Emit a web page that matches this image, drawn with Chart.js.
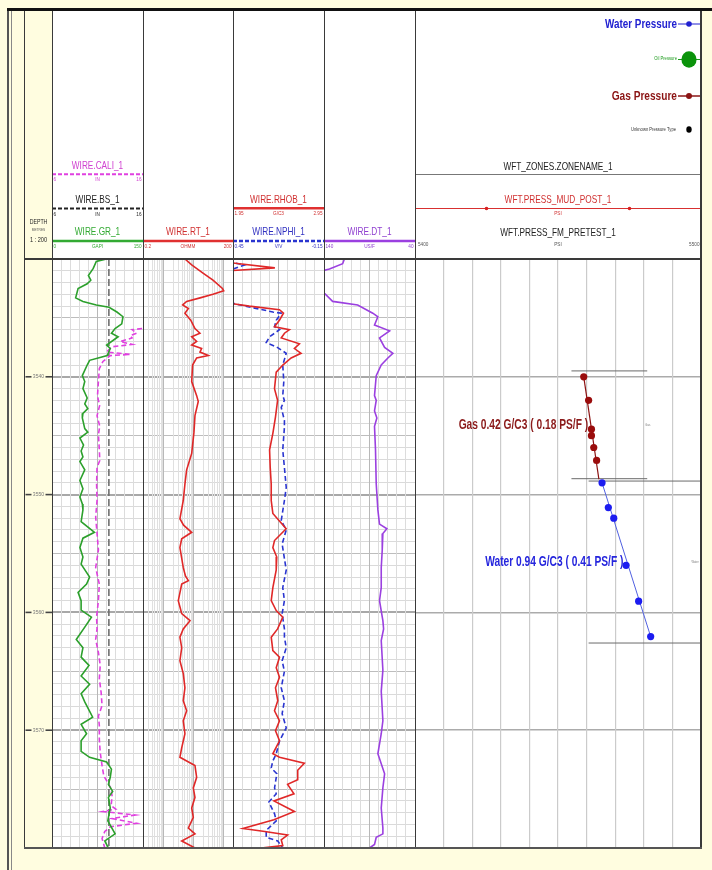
<!DOCTYPE html>
<html><head><meta charset="utf-8">
<script src="https://cdn.jsdelivr.net/npm/chart.js@4.4.1/dist/chart.umd.min.js"></script>
<style>
html,body{margin:0;padding:0;}
body{width:712px;height:870px;background:#FFFDE0;position:relative;overflow:hidden;font-family:"Liberation Sans",Arial,sans-serif;}
canvas{position:absolute;top:11px;}
canvas.trk{background:#ffffff;}
.ln{position:absolute;background:#3a3a3a;}
</style></head><body>
<canvas id="cDepth" class="dep" width="27" height="837" style="left:25px"></canvas>
<canvas id="c1" class="trk" width="91" height="837" style="left:52px"></canvas>
<canvas id="c2" class="trk" width="90" height="837" style="left:143px"></canvas>
<canvas id="c3" class="trk" width="91" height="837" style="left:233px"></canvas>
<canvas id="c4" class="trk" width="91" height="837" style="left:324px"></canvas>
<canvas id="c5" class="trk" width="286" height="837" style="left:415px"></canvas>

<div class="ln" style="left:7px;top:8px;width:2px;height:862px;background:#555"></div>
<div class="ln" style="left:11px;top:8px;width:1px;height:862px;background:#888"></div>
<div class="ln" style="left:7px;top:8px;width:705px;height:3px;background:#111"></div>
<div class="ln" style="left:24px;top:11px;width:1px;height:837px"></div>
<div class="ln" style="left:52px;top:11px;width:1px;height:837px"></div>
<div class="ln" style="left:143px;top:11px;width:1px;height:837px"></div>
<div class="ln" style="left:233px;top:11px;width:1px;height:837px"></div>
<div class="ln" style="left:324px;top:11px;width:1px;height:837px"></div>
<div class="ln" style="left:415px;top:11px;width:1px;height:837px"></div>
<div class="ln" style="left:700px;top:11px;width:2px;height:837px"></div>
<div class="ln" style="left:24px;top:258px;width:678px;height:2px"></div>
<div class="ln" style="left:24px;top:847px;width:678px;height:2px;background:#555"></div>

<script>
// ---------------- DATA ----------------
const DEPTH_MIN = 3530, DEPTH_MAX = 3580;
const DEPTH_LABELS = [3540, 3550, 3560, 3570];

// [depth (m), value]
const GR = [[3530.0,90],[3530.2,73],[3530.8,68],[3531.4,60],[3531.8,64],[3532.1,58],[3532.5,43],[3533.3,39],[3533.6,51],[3533.9,73],[3534.1,94],[3534.5,107],[3534.9,117],[3535.5,115],[3535.9,104],[3536.3,98],[3536.6,109],[3537.3,90],[3537.6,96],[3538.2,91],[3538.6,62],[3539.0,58],[3539.9,50],[3540.4,54],[3541.0,51],[3541.8,58],[3542.3,54],[3542.7,59],[3543.1,51],[3543.5,50],[3544.4,54],[3544.7,59],[3545.2,46],[3545.8,52],[3546.3,48],[3546.8,51],[3547.2,46],[3547.9,54],[3548.8,46],[3549.5,51],[3550.2,46],[3550.8,50],[3551.3,51],[3552.3,48],[3553.2,70],[3553.7,51],[3554.5,46],[3555.3,51],[3555.9,48],[3557.0,62],[3557.6,57],[3558.3,43],[3559.0,48],[3559.8,48],[3560.4,65],[3561.1,56],[3562.3,40],[3563.0,51],[3563.8,48],[3564.5,61],[3565.4,48],[3566.1,62],[3566.9,48],[3567.6,54],[3568.9,67],[3569.5,48],[3570.3,57],[3570.9,48],[3571.8,48],[3572.3,62],[3572.7,90],[3573.3,98],[3574.0,96],[3574.6,93],[3575.2,100],[3575.7,93],[3576.6,96],[3577.7,92],[3578.8,104],[3579.4,87],[3580.0,93]];

const CALI = [[3535.9,15.9],[3536.0,14.8],[3536.3,15.3],[3536.5,14.6],[3536.7,14.8],[3537.0,13.5],[3537.25,14.8],[3537.45,12.6],[3537.9,12.0],[3538.1,14.6],[3538.2,12.4],[3538.7,11.6],[3539.3,11.2],[3540.4,11.1],[3541.6,11.0],[3542.0,11.1],[3542.4,11.25],[3543.3,10.95],[3544.2,11.25],[3544.9,11.1],[3546.2,11.2],[3547.1,11.25],[3547.7,10.95],[3549.1,10.9],[3550.5,10.95],[3551.9,10.8],[3553.3,10.95],[3554.7,11.1],[3556.2,10.8],[3557.6,11.2],[3559.0,11.1],[3560.4,10.9],[3561.4,10.95],[3562.3,10.8],[3563.4,11.1],[3564.5,11.3],[3565.6,11.2],[3566.8,11.4],[3567.9,11.5],[3568.8,11.1],[3569.6,11.2],[3570.8,11.2],[3571.9,11.3],[3573.0,11.5],[3573.9,11.7],[3574.4,12.1],[3575.0,12.5],[3575.6,12.6],[3576.4,12.5],[3576.7,13.0],[3576.9,11.6],[3577.2,15.1],[3577.5,12.6],[3577.9,15.3],[3578.2,12.4],[3578.6,11.8],[3579.2,11.5],[3580.0,11.8]];

const BS = [[3530.0,12.25],[3580.0,12.25]];

const RT = [[3530.0,5.0],[3530.5,8.4],[3531.2,20],[3531.8,43],[3532.5,89],[3532.7,98],[3533.0,43],[3533.3,16],[3533.6,5.7],[3533.9,4.2],[3534.2,6.5],[3534.6,5.0],[3535.2,7.8],[3535.9,10.8],[3536.3,15.8],[3536.6,8.4],[3537.0,12.3],[3537.3,8.4],[3537.6,18],[3537.9,15.8],[3538.2,30],[3538.4,12.3],[3539.0,9.0],[3540.4,8.4],[3541.6,12.3],[3542.1,13.9],[3543.3,10.8],[3544.7,10.0],[3546.5,8.4],[3547.9,5.7],[3549.1,5.0],[3550.5,4.4],[3552.05,3.4],[3552.6,4.5],[3553.2,8.4],[3553.75,3.9],[3554.5,3.4],[3556.2,4.4],[3556.9,5.2],[3557.3,6.5],[3557.6,3.9],[3559.0,3.0],[3560.1,3.9],[3560.7,7.4],[3561.4,4.4],[3562.1,3.4],[3563.0,3.9],[3564.1,3.4],[3565.2,4.4],[3566.4,5.0],[3567.5,4.4],[3568.35,5.7],[3569.2,4.4],[3570.3,5.0],[3571.5,3.9],[3572.3,3.4],[3573.0,10.8],[3574.0,12.3],[3574.9,9.5],[3575.7,10.8],[3576.6,8.4],[3577.4,9.5],[3578.3,6.5],[3578.8,10.8],[3579.4,3.9],[3580.0,10.8]];

const RHOB = [[3530.0,1.85],[3530.3,1.9],[3530.75,2.41],[3531.0,1.9],[3531.2,1.85],[3533.6,1.85],[3533.8,1.95],[3534.0,2.13],[3534.3,2.46],[3534.6,2.505],[3535.2,2.46],[3535.75,2.406],[3536.0,2.57],[3536.3,2.516],[3536.7,2.48],[3537.2,2.68],[3537.6,2.625],[3538.0,2.698],[3538.4,2.589],[3539.0,2.497],[3539.6,2.425],[3541.0,2.406],[3542.0,2.44],[3543.4,2.417],[3544.8,2.388],[3546.2,2.352],[3547.7,2.359],[3549.1,2.37],[3550.5,2.37],[3551.6,2.388],[3552.9,2.534],[3553.9,2.406],[3554.5,2.388],[3555.3,2.431],[3556.4,2.425],[3557.9,2.388],[3559.0,2.37],[3559.85,2.425],[3560.4,2.497],[3561.4,2.44],[3562.1,2.37],[3563.25,2.388],[3563.8,2.461],[3564.7,2.425],[3565.5,2.461],[3566.4,2.417],[3567.5,2.442],[3568.35,2.406],[3569.2,2.461],[3570.05,2.417],[3570.9,2.461],[3572.0,2.388],[3572.3,2.461],[3572.8,2.734],[3573.4,2.661],[3574.2,2.661],[3574.6,2.55],[3575.4,2.62],[3576.0,2.40],[3576.9,2.625],[3577.6,2.40],[3578.35,2.059],[3578.6,2.30],[3578.9,2.55],[3579.3,2.48],[3579.8,2.497],[3580.0,2.26]];

const NPHI = [[3530.0,0.46],[3530.3,0.46],[3530.5,0.373],[3530.8,0.44],[3531.0,0.47],[3533.6,0.47],[3533.8,0.44],[3534.5,0.187],[3534.6,0.132],[3535.2,0.165],[3535.75,0.176],[3536.0,0.143],[3536.6,0.209],[3537.1,0.231],[3537.45,0.165],[3538.0,0.099],[3539.0,0.122],[3540.4,0.115],[3541.6,0.122],[3542.0,0.111],[3542.6,0.132],[3543.7,0.111],[3544.3,0.111],[3546.2,0.122],[3547.7,0.111],[3549.4,0.099],[3550.5,0.111],[3552.2,0.132],[3553.0,0.099],[3554.2,0.126],[3556.4,0.099],[3557.9,0.122],[3559.0,0.111],[3560.1,0.126],[3561.4,0.111],[3562.1,0.111],[3563.0,0.099],[3564.1,0.126],[3565.0,0.111],[3566.4,0.132],[3567.5,0.111],[3568.6,0.126],[3569.8,0.099],[3570.9,0.143],[3572.0,0.165],[3572.6,0.187],[3573.2,0.198],[3573.7,0.161],[3574.9,0.176],[3575.4,0.165],[3576.1,0.214],[3577.1,0.176],[3577.7,0.165],[3578.5,0.231],[3579.1,0.231],[3579.4,0.155],[3580.0,0.122]];

const DT = [[3530.0,117.6],[3530.4,119.5],[3530.85,134],[3531.0,142],[3532.8,142],[3532.9,139.7],[3533.6,130.5],[3533.9,103],[3534.6,86.4],[3534.9,80.8],[3535.6,84.5],[3536.1,67.9],[3536.7,79],[3537.5,73.4],[3538.0,64.3],[3538.4,69.8],[3539.0,77.1],[3539.9,82.6],[3541.6,84.5],[3542.0,82.6],[3542.9,84.5],[3543.5,81.9],[3544.2,84.5],[3546.2,83.4],[3549.1,82.6],[3551.3,80.8],[3552.5,79.0],[3552.9,70.9],[3553.3,75.3],[3554.7,76.0],[3556.2,77.1],[3557.9,77.1],[3559.0,79.0],[3560.7,75.3],[3561.4,74.5],[3562.4,77.1],[3564.9,75.3],[3566.7,77.1],[3569.2,75.3],[3570.3,77.1],[3572.0,80.8],[3573.7,73.4],[3574.9,75.3],[3576.6,77.1],[3578.3,75.3],[3578.8,75.3],[3579.1,82.6],[3579.7,84.5],[3580.0,90]];

// Formation pressure tests
const GAS_PRESS   = [5459.0, 5460.7, 5461.7, 5461.7, 5462.5, 5463.5];
const GAS_DEPTH   = [3540.0, 3542.0, 3544.45, 3545.0, 3546.0, 3547.1];
const WATER_PRESS = [5465.4, 5467.6, 5469.5, 5473.8, 5478.2, 5482.4];
const WATER_DEPTH = [3549.0, 3551.1, 3552.0, 3556.0, 3559.05, 3562.05];
const GAS_GRADIENT   = [[5459.0, 3540.0], [5464.3, 3548.7]];
const WATER_GRADIENT = [[5465.4, 3549.0], [5482.4, 3562.05]];
// zone tops: [depth, pressure from, pressure to]
const ZONE_LINES = [[3539.5, 5454.7, 5481.2], [3548.65, 5454.7, 5481.2], [3548.85, 5460.7, 5500], [3562.6, 5460.7, 5500]];
const GAS_LABEL   = ['Gas 0.42 G/C3 ( 0.18 PS/F )', 5437.9, 3544.1];
const WATER_LABEL = ['Water 0.94 G/C3 ( 0.41 PS/F )', 5448.7, 3555.74];

// scale labels
const CALI_SCALE = ['6', 'IN', '16'];
const BS_SCALE = ['6', 'IN', '16'];
const GR_SCALE = ['0', 'GAPI', '150'];
const RT_SCALE = ['0.2', 'OHMM', '200'];
const RHOB_SCALE = ['1.95', 'G/C3', '2.95'];
const NPHI_SCALE = ['0.45', 'V/V', '-0.15'];
const DT_SCALE = ['140', 'US/F', '40'];
const PRESS_SCALE = ['5400', 'PSI', '5500'];
const RT_GRID = [0.2,0.3,0.4,0.5,0.6,0.7,0.8,0.9,1,2,3,4,5,6,7,8,9,10,20,30,40,50,60,70,80,90,100,200];

// ---------------- HELPERS ----------------
const FONT = '"Liberation Sans", Arial, sans-serif';
function txt(ctx, s, x, y, o) {
  o = o || {};
  ctx.save();
  ctx.translate(x, y);
  ctx.scale(o.sx || 0.75, 1);
  ctx.font = (o.bold ? 'bold ' : '') + (o.size || 11) + 'px ' + FONT;
  ctx.fillStyle = o.color || '#222';
  ctx.textAlign = o.align || 'center';
  ctx.textBaseline = 'middle';
  ctx.fillText(s, 0, 0);
  ctx.restore();
}
function hline(ctx, x0, x1, y, color, lw, dash) {
  ctx.save(); ctx.strokeStyle = color; ctx.lineWidth = lw; ctx.setLineDash(dash || []);
  ctx.beginPath(); ctx.moveTo(x0, y); ctx.lineTo(x1, y); ctx.stroke(); ctx.restore();
}
function dot(ctx, x, y, rx, ry, color) {
  ctx.save(); ctx.fillStyle = color; ctx.beginPath(); ctx.ellipse(x, y, rx, ry, 0, 0, Math.PI * 2); ctx.fill(); ctx.restore();
}
const pts = a => a.map(p => ({x: p[1], y: p[0]}));

function depthAxis(step, colorFn, widthFn) {
  return {type: 'linear', position: 'left', min: DEPTH_MIN, max: DEPTH_MAX, reverse: true,
    ticks: {display: false, stepSize: step}, border: {display: false},
    grid: {drawTicks: false, color: colorFn, lineWidth: widthFn},
    afterFit(s) { s.width = 0; }};
}
const dGridColor = c => { const v = c.tick ? Math.round(c.tick.value) : 0; return v % 10 === 0 ? '#a8a8a8' : (v % 5 === 0 ? '#bdbdbd' : '#dadada'); };
const dGridWidth = c => { const v = c.tick ? Math.round(c.tick.value) : 0; return v % 10 === 0 ? 2 : 1; };
const vGridColor = c => (c.index === 5 ? '#b8b8b8' : '#dcdcdc');
function valAxis(min, max, step, reverse) {
  return {type: 'linear', position: 'top', min, max, reverse: !!reverse,
    ticks: {display: false, stepSize: step}, border: {display: false},
    grid: {drawTicks: false, color: vGridColor, lineWidth: 1},
    afterFit(s) { s.height = 0; }};
}
const hidden = (min, max, reverse) => ({type: 'linear', display: false, min, max, reverse: !!reverse});

function line(data, xAxisID, color, width, dash) {
  return {data, xAxisID, yAxisID: 'y', showLine: true, borderColor: color, backgroundColor: color,
    borderWidth: width, borderDash: dash || [], pointRadius: 0, pointHoverRadius: 0, fill: false, tension: 0};
}

function headerPlugin(rows) {
  return {id: 'hdr', afterDraw(chart) {
    const ctx = chart.ctx, W = chart.width;
    rows.forEach(r => {
      txt(ctx, r.label, W / 2, r.ty, {color: r.tc});
      hline(ctx, 0, W, r.ly, r.lc, r.lw || 2.5, r.dash);
      const sy = r.ly + 5.5, o = {size: 5.5, color: r.tc, sx: 0.85};
      txt(ctx, r.sc[0], 1.5, sy, Object.assign({}, o, {align: 'left'}));
      txt(ctx, r.sc[1], W / 2, sy, o);
      txt(ctx, r.sc[2], W - 1.5, sy, Object.assign({}, o, {align: 'right'}));
    });
  }};
}

const baseOpts = () => ({
  responsive: false, animation: false, devicePixelRatio: 1, events: [],
  layout: {autoPadding: false, padding: {top: 248, bottom: 0, left: 0, right: 0}},
  plugins: {legend: {display: false}, tooltip: {enabled: false}},
  elements: {point: {radius: 0, hoverRadius: 0}}
});

function make(id, datasets, scales, plugins) {
  const o = baseOpts(); o.scales = scales;
  return new Chart(document.getElementById(id), {type: 'scatter', data: {datasets}, options: o, plugins: plugins || []});
}

// ---------------- DEPTH TRACK ----------------
make('cDepth', [], {
  y: {type: 'linear', display: false, min: DEPTH_MIN, max: DEPTH_MAX, reverse: true},
  x: {type: 'linear', display: false, min: 0, max: 1}
}, [{id: 'depthLbl', afterDraw(chart) {
  const ctx = chart.ctx, ys = chart.scales.y, W = chart.width;
  DEPTH_LABELS.forEach(v => {
    const y = ys.getPixelForValue(v);
    hline(ctx, 0.5, 6.5, y, '#444', 1.6);
    hline(ctx, W - 6.5, W, y, '#444', 1.6);
    txt(ctx, String(v), W / 2, y, {size: 6, color: '#7a7a7a', sx: 0.85});
  });
  txt(ctx, 'DEPTH', W / 2, 211.7, {size: 6.5, sx: 0.8, color: '#222'});
  txt(ctx, 'METRES', W / 2, 219, {size: 3.6, sx: 0.9, color: '#555'});
  txt(ctx, '1 : 200', W / 2, 229, {size: 7, sx: 0.8, color: '#222'});
}}]);

// ---------------- TRACK 1: GR / CALI / BS ----------------
make('c1', [
  line(pts(GR), 'x', '#2ca02c', 1.6),
  line(pts(CALI), 'xc', '#e040e0', 1.6, [5, 3]),
  line(pts(BS), 'xc', '#6e6e6e', 1.6, [7, 3])
], {y: depthAxis(1, dGridColor, dGridWidth), x: valAxis(0, 150, 15), xc: hidden(6, 16)},
[headerPlugin([
  {label: 'WIRE.CALI_1', tc: '#d040d0', ty: 155, ly: 163.3, lc: '#e040e0', lw: 2, dash: [4, 2], sc: CALI_SCALE},
  {label: 'WIRE.BS_1', tc: '#222222', ty: 189, ly: 197.5, lc: '#222222', lw: 2, dash: [4, 2], sc: BS_SCALE},
  {label: 'WIRE.GR_1', tc: '#33aa33', ty: 221, ly: 230, lc: '#33aa33', lw: 2.5, sc: GR_SCALE}
])]);

// ---------------- TRACK 2: RT (log) ----------------
make('c2', [line(pts(RT), 'x', '#e02828', 1.6)], {
  y: depthAxis(1, dGridColor, dGridWidth),
  x: {type: 'logarithmic', position: 'top', min: 0.2, max: 200,
      ticks: {display: false}, border: {display: false},
      afterBuildTicks(s) { s.ticks = RT_GRID.map(v => ({value: v})); },
      grid: {drawTicks: false, lineWidth: 1, color: c => (c.tick && [1, 10, 100].includes(c.tick.value)) ? '#b8b8b8' : '#e0e0e0'},
      afterFit(s) { s.height = 0; }}
}, [headerPlugin([
  {label: 'WIRE.RT_1', tc: '#d03030', ty: 221, ly: 230, lc: '#e03030', lw: 2.5, sc: RT_SCALE}
])]);

// ---------------- TRACK 3: RHOB / NPHI ----------------
make('c3', [
  line(pts(RHOB), 'x', '#e02828', 1.6),
  line(pts(NPHI), 'xn', '#2a35d0', 1.6, [5, 3])
], {y: depthAxis(1, dGridColor, dGridWidth), x: valAxis(1.95, 2.95, 0.1), xn: hidden(-0.15, 0.45, true)},
[headerPlugin([
  {label: 'WIRE.RHOB_1', tc: '#d03030', ty: 189, ly: 197.3, lc: '#e03030', lw: 2.5, sc: RHOB_SCALE},
  {label: 'WIRE.NPHI_1', tc: '#3030c0', ty: 221, ly: 230, lc: '#2a35d0', lw: 2.5, dash: [4, 2], sc: NPHI_SCALE}
])]);

// ---------------- TRACK 4: DT ----------------
make('c4', [line(pts(DT), 'x', '#9b40e0', 1.6)],
  {y: depthAxis(1, dGridColor, dGridWidth), x: valAxis(40, 140, 10, true)},
[headerPlugin([
  {label: 'WIRE.DT_1', tc: '#9040d0', ty: 221, ly: 230, lc: '#9b40e0', lw: 2.5, sc: DT_SCALE}
])]);

// ---------------- TRACK 5: PRESSURE ----------------
const pressDatasets = [
  {data: GAS_PRESS.map((p, i) => ({x: p, y: GAS_DEPTH[i]})), xAxisID: 'x', yAxisID: 'y', showLine: false,
   pointRadius: 3.6, pointHoverRadius: 3.6, pointBackgroundColor: '#9a0c0c', pointBorderColor: '#9a0c0c', pointBorderWidth: 0},
  {data: WATER_PRESS.map((p, i) => ({x: p, y: WATER_DEPTH[i]})), xAxisID: 'x', yAxisID: 'y', showLine: false,
   pointRadius: 3.6, pointHoverRadius: 3.6, pointBackgroundColor: '#1c1cf0', pointBorderColor: '#1c1cf0', pointBorderWidth: 0},
  line(GAS_GRADIENT.map(p => ({x: p[0], y: p[1]})), 'x', '#8b1010', 1.2),
  line(WATER_GRADIENT.map(p => ({x: p[0], y: p[1]})), 'x', '#5060e0', 1)
].concat(ZONE_LINES.map(z => line([{x: z[1], y: z[0]}, {x: z[2], y: z[0]}], 'x', '#6a6a6a', 1)));

make('c5', pressDatasets, {
  y: depthAxis(10, () => '#ababab', 1.5),
  x: {type: 'linear', position: 'top', min: 5400, max: 5500, ticks: {display: false, stepSize: 10},
      border: {display: false}, grid: {drawTicks: false, color: '#cbcbcb', lineWidth: 1.2},
      afterFit(s) { s.height = 0; }}
}, [{id: 'press', afterDraw(chart) {
  const ctx = chart.ctx, W = chart.width, xs = chart.scales.x, ys = chart.scales.y;
  // header
  txt(ctx, 'WFT_ZONES.ZONENAME_1', W / 2, 155.7, {color: '#222'});
  hline(ctx, 0, W, 163.5, '#777', 1);
  txt(ctx, 'WFT.PRESS_MUD_POST_1', W / 2, 188.5, {color: '#d03030'});
  hline(ctx, 0, W, 197.5, '#d83030', 1);
  dot(ctx, W * 0.25, 197.5, 1.8, 1.8, '#d82020');
  dot(ctx, W * 0.75, 197.5, 1.8, 1.8, '#d82020');
  txt(ctx, 'PSI', W / 2, 202.5, {size: 5.5, color: '#d03030', sx: 0.85});
  txt(ctx, 'WFT.PRESS_FM_PRETEST_1', W / 2, 221.7, {color: '#222'});
  txt(ctx, PRESS_SCALE[0], 3, 233.5, {size: 5.5, color: '#555', sx: 0.85, align: 'left'});
  txt(ctx, PRESS_SCALE[1], W / 2, 233.5, {size: 5.5, color: '#555', sx: 0.85});
  txt(ctx, PRESS_SCALE[2], W - 1.5, 233.5, {size: 5.5, color: '#555', sx: 0.85, align: 'right'});
  // legend
  txt(ctx, 'Water Pressure', 262, 13, {size: 13.5, bold: true, color: '#2020d0', align: 'right', sx: 0.73});
  hline(ctx, 263, W, 13, '#2020d0', 1);
  dot(ctx, 274, 13, 2.8, 2.8, '#2020d0');
  txt(ctx, 'Oil Pressure', 262, 47.5, {size: 4.6, color: '#1a9a1a', align: 'right', sx: 0.9});
  hline(ctx, 263, W, 48.5, '#1a9a1a', 1);
  dot(ctx, 274, 48.5, 7.6, 8.2, '#0b930b');
  txt(ctx, 'Gas Pressure', 262, 85, {size: 13.5, bold: true, color: '#8b1414', align: 'right', sx: 0.75});
  hline(ctx, 263, W, 85, '#8b1414', 1.5);
  dot(ctx, 274, 85, 3, 3, '#8b1414');
  txt(ctx, 'Unknown Pressure Type', 261, 118.5, {size: 4.6, color: '#333', align: 'right', sx: 0.9});
  dot(ctx, 274, 118.5, 2.7, 3.3, '#000');
  // gradient annotations
  txt(ctx, GAS_LABEL[0], xs.getPixelForValue(GAS_LABEL[1]), ys.getPixelForValue(GAS_LABEL[2]), {size: 14, bold: true, color: '#8b1a1a', sx: 0.73});
  txt(ctx, WATER_LABEL[0], xs.getPixelForValue(WATER_LABEL[1]), ys.getPixelForValue(WATER_LABEL[2]), {size: 14, bold: true, color: '#2525dd', sx: 0.73});
  txt(ctx, 'Gas', xs.getPixelForValue(5481.4), ys.getPixelForValue(3544.1), {size: 3, color: '#777', sx: 0.9});
  txt(ctx, 'Water', xs.getPixelForValue(5497.9), ys.getPixelForValue(3555.74), {size: 3, color: '#777', sx: 0.9});
}}]);
</script>
</body></html>
